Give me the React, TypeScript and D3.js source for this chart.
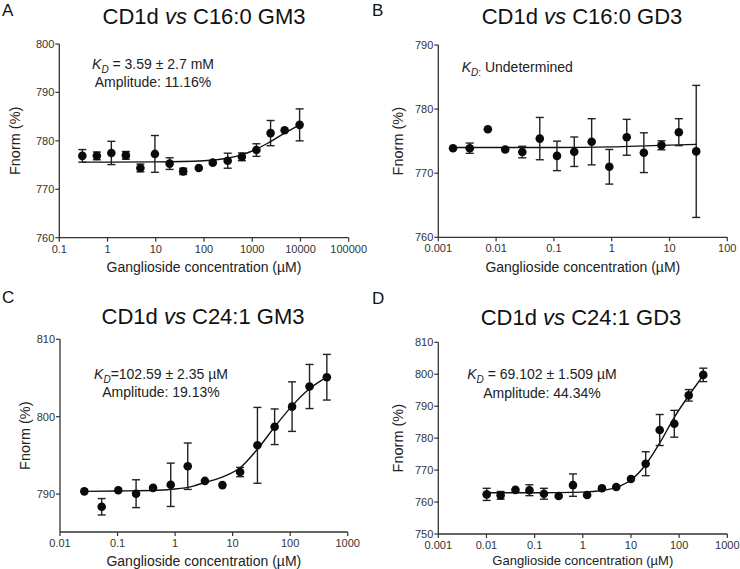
import React from "react";
import * as d3 from "d3";

// ---------- Data ----------
// Panel A: CD1d vs C16:0 GM3
const aConc = [0.3, 0.6, 1.2, 2.4, 4.8, 9.6, 19.4, 37, 78, 152, 310, 610, 1220, 2400, 4700, 9600];
const aFnorm = [776.9, 776.9, 777.5, 777.0, 774.4, 777.3, 775.3, 773.7, 774.4, 775.5, 775.9, 776.7, 778.1, 781.6, 782.2, 783.3];
const aErr = [1.3, 0.8, 2.4, 0.8, 0.8, 3.8, 1.2, 0.65, 0, 0, 1.55, 0.8, 1.3, 2.6, 0, 3.3];
const aFitConc = [0.3, 1, 10, 100, 300, 600, 1000, 2000, 4000, 9600];
const aFitFnorm = [775.6, 775.6, 775.65, 775.9, 776.4, 777.1, 777.9, 779.4, 781.2, 783.3];

// Panel B: CD1d vs C16:0 GD3
const bConc = [0.0018, 0.0035, 0.0072, 0.0144, 0.0284, 0.057, 0.113, 0.225, 0.45, 0.91, 1.82, 3.6, 7.25, 14.5, 29];
const bFnorm = [773.9, 773.9, 776.85, 773.7, 773.3, 775.4, 772.7, 773.35, 774.9, 771.0, 775.6, 773.2, 774.35, 776.4, 773.4];
const bErr = [0, 0.8, 0, 0, 0.9, 3.3, 2.3, 2.3, 3.6, 2.7, 2.8, 3.1, 0.7, 2.1, 10.3];
const bFitConc = [0.0018, 0.1, 1, 5, 29];
const bFitFnorm = [774.0, 774.0, 774.1, 774.3, 774.5];

// Panel C: CD1d vs C24:1 GM3
const cConc = [0.0265, 0.053, 0.103, 0.21, 0.414, 0.84, 1.66, 3.3, 6.65, 13.5, 27, 53.7, 108, 217, 434];
const cFnorm = [790.35, 788.36, 790.5, 790.05, 790.8, 791.2, 793.6, 791.7, 791.16, 792.85, 796.3, 798.7, 801.3, 803.9, 805.1];
const cErr = [0, 1.06, 0, 1.8, 0, 2.8, 3.0, 0, 0, 0.6, 4.9, 2.3, 3.2, 2.85, 2.95];
const cFitConc = [0.0265, 0.1, 0.5, 1, 2, 3.3, 6.6, 13.5, 27, 54, 108, 217, 434];
const cFitFnorm = [790.35, 790.4, 790.5, 790.65, 791.0, 791.5, 792.2, 793.4, 795.8, 798.7, 801.4, 803.6, 805.1];

// Panel D: CD1d vs C24:1 GD3
const dConc = [0.0101, 0.0197, 0.04, 0.078, 0.156, 0.316, 0.625, 1.23, 2.5, 4.95, 10, 20.2, 39.5, 79.4, 158, 317];
const dFnorm = [762.4, 762.1, 763.8, 763.7, 762.6, 761.9, 765.3, 762.2, 764.3, 764.7, 767.2, 772.0, 782.55, 784.5, 793.4, 799.8];
const dErr = [1.9, 1.2, 0, 1.7, 1.7, 0, 3.5, 0, 0, 0, 0, 3.75, 4.85, 4.2, 1.8, 2.1];
const dFitConc = [0.0101, 0.1, 1, 2.5, 5, 10, 20, 40, 80, 160, 317];
const dFitFnorm = [762.9, 762.9, 763.1, 763.6, 764.6, 766.9, 771.6, 778.6, 786.6, 793.4, 799.6];

// Tick values
const aXTicks = [0.1, 1, 10, 100, 1000, 10000, 100000];
const aYTicks = [760, 770, 780, 790, 800];
const bXTicks = [0.001, 0.01, 0.1, 1, 10, 100];
const bYTicks = [760, 770, 780, 790];
const cXTicks = [0.01, 0.1, 1, 10, 100, 1000];
const cYTicks = [790, 800, 810];
const dXTicks = [0.001, 0.01, 0.1, 1, 10, 100, 1000];
const dYTicks = [750, 760, 770, 780, 790, 800, 810];

const FONT = "'Liberation Sans', Arial, Helvetica, sans-serif";

type PanelProps = {
  letter: string;
  letterPos: [number, number];
  titleParts: [string, string];
  titleX: number;
  titleY: number;
  box: { x0: number; x1: number; yTop: number; yBot: number };
  xDomain: [number, number];
  yDomain: [number, number];
  xTicks: number[];
  yTicks: number[];
  conc: number[];
  fnorm: number[];
  err: number[];
  fitConc: number[];
  fitFnorm: number[];
  xLabelSize: number;
  xLabelY: number;
  yLabelX: number;
  annotation: React.ReactNode;
};

function Panel(p: PanelProps) {
  const x = d3.scaleLog().domain(p.xDomain).range([p.box.x0, p.box.x1]);
  const y = d3.scaleLinear().domain(p.yDomain).range([p.box.yBot, p.box.yTop]);
  const line = d3
    .line<number>()
    .x((_, i) => x(p.fitConc[i]))
    .y((v) => y(v))
    .curve(d3.curveMonotoneX);
  const axisColor = "#333";
  const tickColor = "#333";
  const cx = (p.box.x0 + p.box.x1) / 2;
  const cy = (p.box.yTop + p.box.yBot) / 2;
  return (
    <g>
      <text x={p.letterPos[0]} y={p.letterPos[1]} fontSize={17} fontFamily={FONT} fill="#111">
        {p.letter}
      </text>
      <text x={p.titleX} y={p.titleY} fontSize={22} fontFamily={FONT} textAnchor="middle" fill="#111">
        <tspan>{p.titleParts[0]}</tspan>
        <tspan fontStyle="italic">vs</tspan>
        <tspan>{p.titleParts[1]}</tspan>
      </text>
      {/* axes */}
      <line x1={p.box.x0} x2={p.box.x0} y1={p.box.yTop} y2={p.box.yBot} stroke={axisColor} strokeWidth={1.3} />
      <line x1={p.box.x0} x2={p.box.x1} y1={p.box.yBot} y2={p.box.yBot} stroke={axisColor} strokeWidth={1.3} />
      {p.yTicks.map((t) => (
        <g key={"y" + t}>
          <line x1={p.box.x0 - 4} x2={p.box.x0} y1={y(t)} y2={y(t)} stroke={axisColor} strokeWidth={1.2} />
          <text x={p.box.x0 - 5} y={y(t)} dy="0.35em" textAnchor="end" fontSize={11} fontFamily={FONT} fill={tickColor}>
            {t}
          </text>
        </g>
      ))}
      {p.xTicks.map((t) => (
        <g key={"x" + t}>
          <line x1={x(t)} x2={x(t)} y1={p.box.yBot} y2={p.box.yBot + 4} stroke={axisColor} strokeWidth={1.2} />
          <text x={x(t)} y={p.box.yBot + 15} textAnchor="middle" fontSize={11} fontFamily={FONT} fill={tickColor}>
            {String(t)}
          </text>
        </g>
      ))}
      <text x={cx} y={p.xLabelY} textAnchor="middle" fontSize={p.xLabelSize} fontFamily={FONT} fill="#222">
        Ganglioside concentration (µM)
      </text>
      <text
        transform={`translate(${p.yLabelX},${cy}) rotate(-90)`}
        textAnchor="middle"
        fontSize={14.5}
        fontFamily={FONT}
        fill="#222"
      >
        Fnorm (%)
      </text>
      {/* fit curve */}
      <path d={line(p.fitFnorm) || ""} fill="none" stroke="#111" strokeWidth={1.4} />
      {/* error bars */}
      {p.conc.map((c, i) =>
        p.err[i] > 0 ? (
          <g key={"e" + i} stroke="#222" strokeWidth={1.4}>
            <line x1={x(c)} x2={x(c)} y1={y(p.fnorm[i] + p.err[i])} y2={y(p.fnorm[i] - p.err[i])} />
            <line x1={x(c) - 4} x2={x(c) + 4} y1={y(p.fnorm[i] + p.err[i])} y2={y(p.fnorm[i] + p.err[i])} />
            <line x1={x(c) - 4} x2={x(c) + 4} y1={y(p.fnorm[i] - p.err[i])} y2={y(p.fnorm[i] - p.err[i])} />
          </g>
        ) : null
      )}
      {p.conc.map((c, i) => (
        <circle key={"p" + i} cx={x(c)} cy={y(p.fnorm[i])} r={4.3} fill="#0a0a0a" />
      ))}
      {p.annotation}
    </g>
  );
}

function KD({ x, y, rest, anchor = "middle", colonSub = false }: { x: number; y: number; rest: string; anchor?: string; colonSub?: boolean }) {
  return (
    <text x={x} y={y} textAnchor={anchor as any} fontSize={14} fontFamily={FONT} fill="#222">
      <tspan fontStyle="italic">K</tspan>
      <tspan fontStyle="italic" fontSize={10} dy={4}>
        D
      </tspan>
      {colonSub ? <tspan fontSize={10}>:</tspan> : null}
      <tspan dy={-4}>{rest}</tspan>
    </text>
  );
}

function Amp({ x, y, text }: { x: number; y: number; text: string }) {
  return (
    <text x={x} y={y} textAnchor="middle" fontSize={14} fontFamily={FONT} fill="#222">
      {text}
    </text>
  );
}

export default function App() {
  return (
    <svg width={740} height={569} style={{ position: "absolute", left: 0, top: 0, background: "#fff" }}>
      <rect width={740} height={569} fill="#fff" />
      <Panel
        letter="A"
        letterPos={[2, 16]}
        titleParts={["CD1d ", " C16:0 GM3"]}
        titleX={204}
        titleY={24}
        box={{ x0: 59.3, x1: 348.7, yTop: 44, yBot: 237.7 }}
        xDomain={[0.1, 100000]}
        yDomain={[760, 800]}
        xTicks={aXTicks}
        yTicks={aYTicks}
        conc={aConc}
        fnorm={aFnorm}
        err={aErr}
        fitConc={aFitConc}
        fitFnorm={aFitFnorm}
        xLabelSize={14}
        xLabelY={272}
        yLabelX={19.5}
        annotation={
          <g>
            <KD x={153} y={69} rest=" = 3.59 ± 2.7 mM" />
            <Amp x={153} y={87} text="Amplitude: 11.16%" />
          </g>
        }
      />
      <Panel
        letter="B"
        letterPos={[372, 16]}
        titleParts={["CD1d ", " C16:0 GD3"]}
        titleX={582}
        titleY={24}
        box={{ x0: 438.3, x1: 727.3, yTop: 45, yBot: 237.3 }}
        xDomain={[0.001, 100]}
        yDomain={[760, 790]}
        xTicks={bXTicks}
        yTicks={bYTicks}
        conc={bConc}
        fnorm={bFnorm}
        err={bErr}
        fitConc={bFitConc}
        fitFnorm={bFitFnorm}
        xLabelSize={14}
        xLabelY={272}
        yLabelX={403}
        annotation={<KD x={461.7} y={72} rest=" Undetermined" anchor="start" colonSub />}
      />
      <Panel
        letter="C"
        letterPos={[2, 303]}
        titleParts={["CD1d ", " C24:1 GM3"]}
        titleX={203}
        titleY={324}
        box={{ x0: 60, x1: 347.7, yTop: 339.3, yBot: 532 }}
        xDomain={[0.01, 1000]}
        yDomain={[785.1, 810]}
        xTicks={cXTicks}
        yTicks={cYTicks}
        conc={cConc}
        fnorm={cFnorm}
        err={cErr}
        fitConc={cFitConc}
        fitFnorm={cFitFnorm}
        xLabelSize={14}
        xLabelY={566}
        yLabelX={30}
        annotation={
          <g>
            <KD x={161} y={379} rest="=102.59 ± 2.35 µM" />
            <Amp x={161} y={397} text="Amplitude: 19.13%" />
          </g>
        }
      />
      <Panel
        letter="D"
        letterPos={[372, 304]}
        titleParts={["CD1d ", " C24:1 GD3"]}
        titleX={581}
        titleY={325}
        box={{ x0: 438.3, x1: 727.3, yTop: 342.3, yBot: 534 }}
        xDomain={[0.001, 1000]}
        yDomain={[750, 810]}
        xTicks={dXTicks}
        yTicks={dYTicks}
        conc={dConc}
        fnorm={dFnorm}
        err={dErr}
        fitConc={dFitConc}
        fitFnorm={dFitFnorm}
        xLabelSize={13}
        xLabelY={565}
        yLabelX={403}
        annotation={
          <g>
            <KD x={542} y={379} rest=" = 69.102 ± 1.509 µM" />
            <Amp x={542} y={398} text="Amplitude: 44.34%" />
          </g>
        }
      />
    </svg>
  );
}
